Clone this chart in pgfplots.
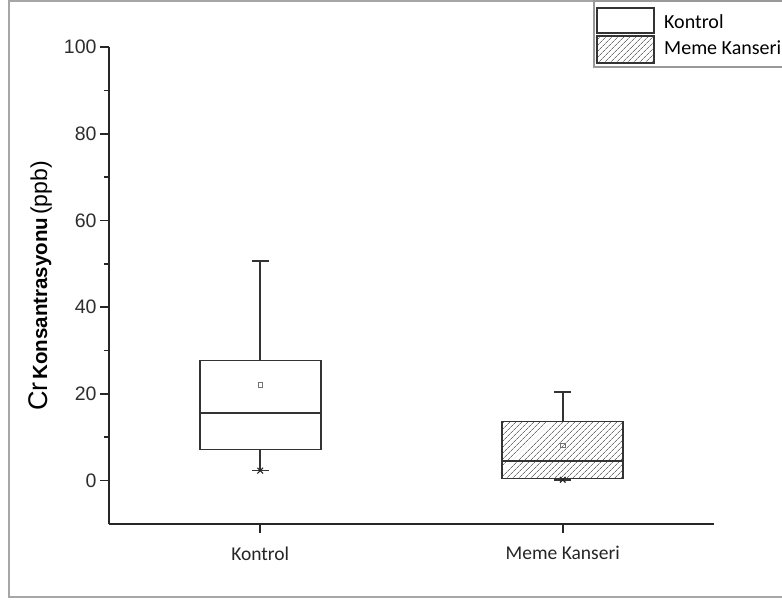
\documentclass[border=0pt]{standalone}
\usepackage{fontspec}
\setmainfont{Liberation Sans}
\newfontfamily\carlito{Carlito}
\usepackage{pgfplots}
\pgfplotsset{compat=1.18}
\usepgfplotslibrary{statistics}
\usetikzlibrary{patterns.meta}
\begin{document}
\begin{tikzpicture}
\useasboundingbox (0pt,0pt) rectangle (782pt,601pt);
\fill[white] (0pt,0pt) rectangle (782pt,601pt);
\draw[black!35, line width=1.5pt] (782pt,600pt) -- (9pt,600pt) -- (9pt,4pt) -- (782pt,4pt);
\begin{axis}[
  at={(109pt,77pt)}, anchor=south west,
  scale only axis, width=605pt, height=477pt,
  xmin=0.5, xmax=2.5, ymin=-10, ymax=100,
  axis lines=left, axis line style={-, line width=1.8pt, black!85},
  tick align=outside,
  tick style={line width=1.6pt, black!85},
  major tick length=9pt, minor tick length=5pt,
  ytick={0,20,...,100}, minor ytick={10,30,...,90},
  xtick={1,2}, xticklabels={Kontrol, Meme Kanseri},
  /pgf/number format/assume math mode=true,
  yticklabel style={font=\fontsize{19.5}{19.5}\selectfont, text=black!82},
  xticklabel style={font=\carlito\fontsize{19.5}{19.5}\selectfont, text=black!85, yshift=-10pt},
  boxplot/draw direction=y,
  clip=false,
]
\addplot+[boxplot prepared={draw position=1, lower whisker=2.3, lower quartile=7.2, median=15.6, upper quartile=27.7, upper whisker=50.6, box extend=0.4, whisker extend=0.056}, draw=black!80, line width=1.6pt, fill=white, solid, mark=none] coordinates {};
\addplot+[boxplot prepared={draw position=2, lower whisker=0.2, lower quartile=0.5, median=4.5, upper quartile=13.6, upper whisker=20.4, box extend=0.4, whisker extend=0.056}, draw=black!80, line width=1.6pt, solid, mark=none, pattern={Lines[angle=45,distance=4pt,line width=0.8pt]}, pattern color=black!55] coordinates {};
\addplot[only marks, mark=square, mark size=2.2pt, draw=black!55, line width=0.8pt] coordinates {(1,22.1) (2,8.1)};
\addplot[only marks, mark=x, mark size=4pt, draw=black!85, line width=1.1pt] coordinates {(1,2.3) (2,0.2)};
\end{axis}
\node[rotate=90, anchor=center] at (40pt,315pt) {{\fontsize{27}{27}\selectfont Cr} {\bfseries\fontsize{20.5}{21}\selectfont Konsantrasyonu} {\fontsize{23}{23}\selectfont (ppb)}};
\draw[black!40, line width=1.2pt, fill=white] (594pt,534pt) rectangle (784pt,600pt);
\draw[black!80, line width=1.3pt, fill=white] (597pt,568pt) rectangle (654pt,593pt);
\draw[black!80, line width=1.3pt, pattern={Lines[angle=45,distance=4pt,line width=0.8pt]}, pattern color=black!55] (597pt,538pt) rectangle (654pt,565pt);
\node[anchor=west, inner sep=0pt, font=\carlito\fontsize{20}{20}\selectfont] at (664pt,579pt) {Kontrol};
\node[anchor=west, inner sep=0pt, font=\carlito\fontsize{20}{20}\selectfont] at (664pt,553pt) {Meme Kanseri};
\end{tikzpicture}
\end{document}
